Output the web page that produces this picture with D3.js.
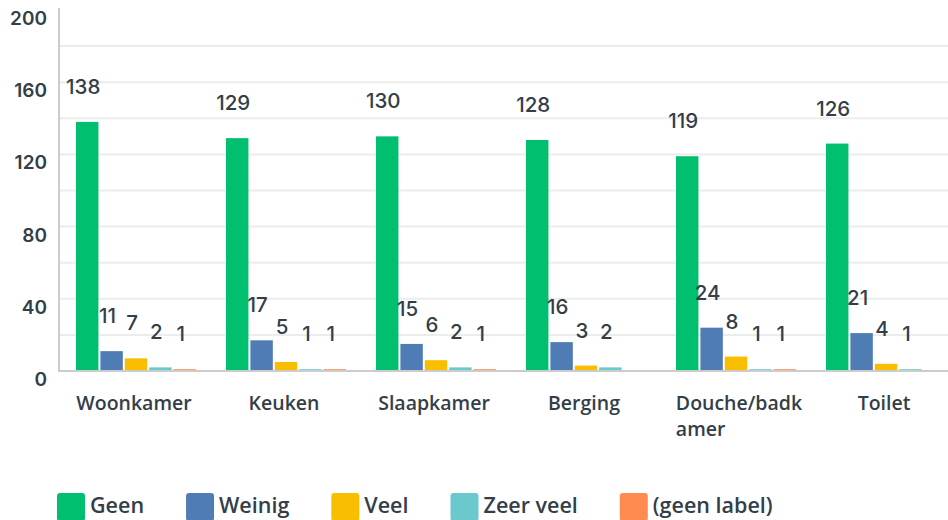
<!DOCTYPE html>
<html>
<head>
<meta charset="utf-8">
<script src="https://cdn.jsdelivr.net/npm/d3@7.9.0/dist/d3.min.js"></script>
<style>
  body { margin: 0; background: #fff; }
  svg { display: block; }
  text { fill: #333e48; }
</style>
</head>
<body>
<svg id="chart" width="948" height="520"></svg>
<script>
// categories + one array per answer
const categories = ['Woonkamer', 'Keuken', 'Slaapkamer', 'Berging', 'Douche/badkamer', 'Toilet'];
const seriesNames = ['Geen', 'Weinig', 'Veel', 'Zeer veel', '(geen label)'];
const geen = [138, 129, 130, 128, 119, 126];
const weinig = [11, 17, 15, 16, 24, 21];
const veel = [7, 5, 6, 3, 8, 4];
const zeerVeel = [2, 1, 2, 2, 1, 1];
const geenLabel = [1, 1, 1, 0, 1, 0];
const yTicks = [0, 40, 80, 120, 160, 200];
const colors = ['#00bf6f', '#507cb6', '#f9be00', '#6bc8cd', '#ff8b4f'];

const seriesValues = [geen, weinig, veel, zeerVeel, geenLabel];

const svg = d3.select('#chart');
const baseY = 371;
const topY = 10;
const left = 59;

let y = d3.scaleLinear().domain([0, 200]).range([baseY, topY]);
let x0 = d3.scaleBand().domain(categories).range([left, left + 900]);
let x1 = d3.scaleBand().domain(seriesNames).range([17, 137]).paddingInner(0.08);
let color = d3.scaleOrdinal().domain(seriesNames).range(colors);

// gridlines every 20
svg.append('g')
  .selectAll('line')
  .data(d3.range(20, 200, 20))
  .join('line')
  .attr('x1', left)
  .attr('x2', 948)
  .attr('y1', d => y(d))
  .attr('y2', d => y(d))
  .attr('stroke', '#ececec')
  .attr('stroke-width', 2);

// y tick labels
svg.append('g')
  .selectAll('text')
  .data(yTicks)
  .join('text')
  .attr('x', 47)
  .attr('y', d => y(d) + 15)
  .attr('text-anchor', 'end')
  .style('font-family', 'Inter, sans-serif')
  .style('font-weight', 600)
  .style('font-size', '19px')
  .text(d => d);

// bars
let rows = [];
categories.forEach((c, i) => {
  seriesNames.forEach((s, j) => {
    rows.push({ cat: c, series: s, value: seriesValues[j][i] });
  });
});

let groups = svg.append('g');
groups.selectAll('rect')
  .data(rows)
  .join('rect')
  .attr('x', d => x0(d.cat) + x1(d.series))
  .attr('y', d => y(d.value))
  .attr('width', x1.bandwidth())
  .attr('height', d => baseY - y(d.value))
  .attr('fill', d => color(d.series));

// value labels
groups.selectAll('text')
  .data(rows.filter(d => d.value > 0))
  .join('text')
  .attr('x', d => x0(d.cat) + x1(d.series) + x1.bandwidth() / 2 - 4)
  .attr('y', d => y(d.value) - 28)
  .attr('text-anchor', 'middle')
  .style('font-family', 'Inter, sans-serif')
  .style('font-weight', 500)
  .style('font-size', '20.5px')
  .text(d => d.value);

// axis lines
svg.append('line')
  .attr('x1', left).attr('x2', left)
  .attr('y1', 8).attr('y2', baseY + 1)
  .attr('stroke', '#cccccc').attr('stroke-width', 2);
svg.append('line')
  .attr('x1', left).attr('x2', 948)
  .attr('y1', baseY).attr('y2', baseY)
  .attr('stroke', '#cccccc').attr('stroke-width', 2);

// category labels, wrapped by character like the original
categories.forEach(c => {
  let t = svg.append('text')
    .style('font-family', '"Open Sans", sans-serif')
    .style('font-weight', 600)
    .style('font-size', '19.5px');
  let probe = t.append('tspan');
  let lines = [];
  let cur = '';
  for (let ch of c) {
    probe.text(cur + ch);
    if (probe.node().getComputedTextLength() > 132 && cur) {
      lines.push(cur);
      cur = ch;
    } else {
      cur += ch;
    }
  }
  lines.push(cur);
  probe.remove();
  let widths = lines.map(l => {
    let tmp = t.append('tspan').text(l);
    let w = tmp.node().getComputedTextLength();
    tmp.remove();
    return w;
  });
  let cx = x0(c) + x0.bandwidth() / 2;
  if (lines.length === 1) {
    t.attr('text-anchor', 'middle')
      .append('tspan').attr('x', cx).attr('y', 410).text(lines[0]);
  } else {
    let sx = cx - d3.max(widths) / 2 + 5;
    lines.forEach((l, i) => {
      t.append('tspan').attr('x', sx).attr('y', 410 + i * 26).text(l);
    });
  }
});

// legend
let lx = 57;
seriesNames.forEach(s => {
  svg.append('rect')
    .attr('x', lx).attr('y', 493)
    .attr('width', 28).attr('height', 28)
    .attr('rx', 3)
    .attr('fill', color(s));
  let t = svg.append('text')
    .attr('x', lx + 33)
    .attr('y', 513)
    .style('font-family', '"Open Sans", sans-serif')
    .style('font-weight', 600)
    .style('font-size', '21.5px')
    .text(s);
  lx += 33 + t.node().getComputedTextLength() + 42;
});
</script>
</body>
</html>
